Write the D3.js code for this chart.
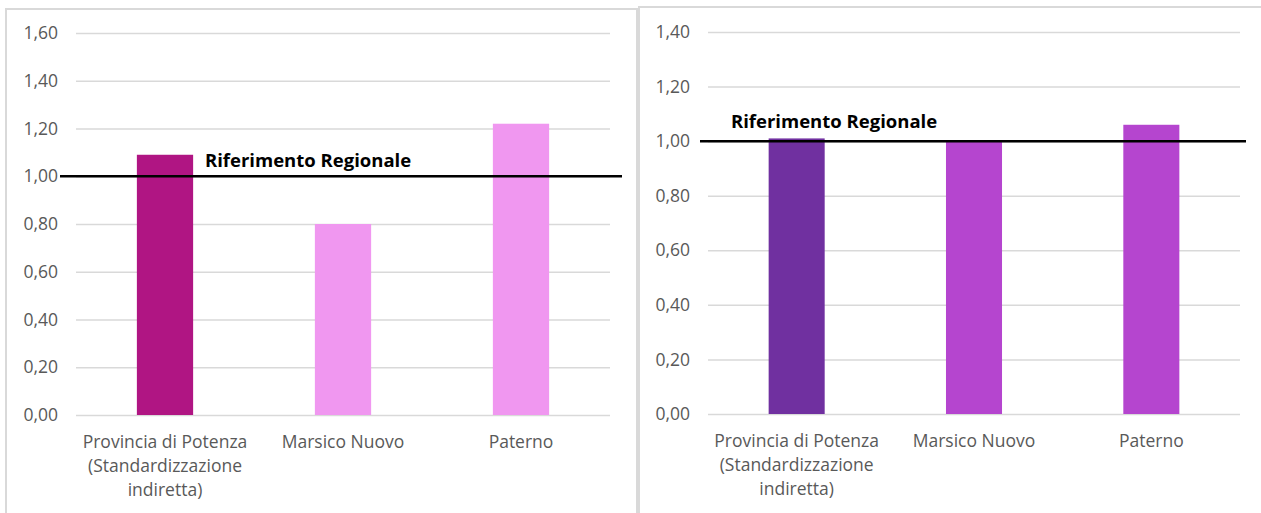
<!DOCTYPE html>
<style>
body { margin: 0; background: #fff; }
svg { display: block; font-family: "Open Sans", sans-serif; }
</style>
<svg width="1261" height="513"></svg>
<script src="https://d3js.org/d3.v7.min.js"></script>
<script>
const categories = ["Provincia di Potenza (Standardizzazione indiretta)", "Marsico Nuovo", "Paterno"];
const catLines = [["Provincia di Potenza", "(Standardizzazione", "indiretta)"], ["Marsico Nuovo"], ["Paterno"]];
const leftValues = [1.09, 0.80, 1.22];
const rightValues = [1.01, 1.00, 1.06];
const leftColors = ["#b01583", "#f097f0", "#f097f0"];
const rightColors = ["#7030a0", "#b545cf", "#b545cf"];
const leftTicks = [0, 0.2, 0.4, 0.6, 0.8, 1.0, 1.2, 1.4, 1.6];
const rightTicks = [0, 0.2, 0.4, 0.6, 0.8, 1.0, 1.2, 1.4];
const refValue = 1.0;
const refLabel = "Riferimento Regionale";

const svg = d3.select("svg");
const fmt = (d) => d3.format(".2f")(d).replace(".", ",");

function panel(o) {
	// frame
	svg.append("rect")
		.attr("x", o.frame[0]).attr("y", o.frame[1])
		.attr("width", o.frame[2]).attr("height", o.frame[3])
		.attr("fill", "#fff").attr("stroke", "#d9d9d9").attr("stroke-width", 2);

	const y = d3.scaleLinear().domain([0, d3.max(o.ticks)]).range([o.bottom, o.top]);
	const x = d3.scaleBand().domain(categories).range([o.left, o.right]).paddingInner(0.684).paddingOuter(0.342);

	const g = svg.append("g");

	const yAxis = d3.axisLeft(y).tickValues(o.ticks).tickFormat(fmt)
		.tickSize(-(o.right - o.left)).tickPadding(18);
	g.append("g")
		.attr("transform", `translate(${o.left},0)`)
		.call(yAxis)
		.call((a) => a.select(".domain").remove())
		.call((a) => a.selectAll("line").attr("stroke", "#d9d9d9").attr("stroke-width", 1.5))
		.call((a) => a.selectAll("text").attr("fill", "#595959").style("font-size", "17.5px").style("font-family", "Open Sans"));

	g.selectAll("rect.bar")
		.data(o.values)
		.enter().append("rect")
		.attr("class", "bar")
		.attr("x", (d, i) => x(categories[i]))
		.attr("width", x.bandwidth())
		.attr("y", (d) => y(d))
		.attr("height", (d) => y(0) - y(d))
		.attr("fill", (d, i) => o.colors[i]);

	// category labels
	const lab = g.selectAll("text.cat")
		.data(catLines)
		.enter().append("text")
		.attr("class", "cat")
		.attr("text-anchor", "middle")
		.attr("fill", "#595959")
		.style("font-size", "17.5px")
		.attr("x", (d, i) => x(categories[i]) + x.bandwidth() / 2)
		.attr("y", o.bottom + 33);
	lab.selectAll("tspan")
		.data((d, i) => d.map((t) => ({ t, cx: x(categories[i]) + x.bandwidth() / 2 })))
		.enter().append("tspan")
		.attr("x", (d) => d.cx)
		.attr("dy", (d, j) => j === 0 ? 0 : 24)
		.text((d) => d.t);

	// reference line
	g.append("line")
		.attr("x1", o.refX[0]).attr("x2", o.refX[1])
		.attr("y1", y(refValue)).attr("y2", y(refValue))
		.attr("stroke", "#000").attr("stroke-width", 2.5);
	g.append("text")
		.attr("x", o.refText[0]).attr("y", y(refValue) + o.refText[1])
		.attr("font-weight", "bold")
		.style("font-size", "18.5px")
		.attr("fill", "#000")
		.text(refLabel);
}

panel({
	frame: [6, 9, 631, 520],
	top: 33, bottom: 415, left: 76, right: 610,
	ticks: leftTicks, values: leftValues, colors: leftColors,
	refX: [60, 622], refText: [205, -9]
});

panel({
	frame: [639, 7, 640, 520],
	top: 32, bottom: 414, left: 708, right: 1240,
	ticks: rightTicks, values: rightValues, colors: rightColors,
	refX: [700, 1246], refText: [731, -13]
});
</script>
